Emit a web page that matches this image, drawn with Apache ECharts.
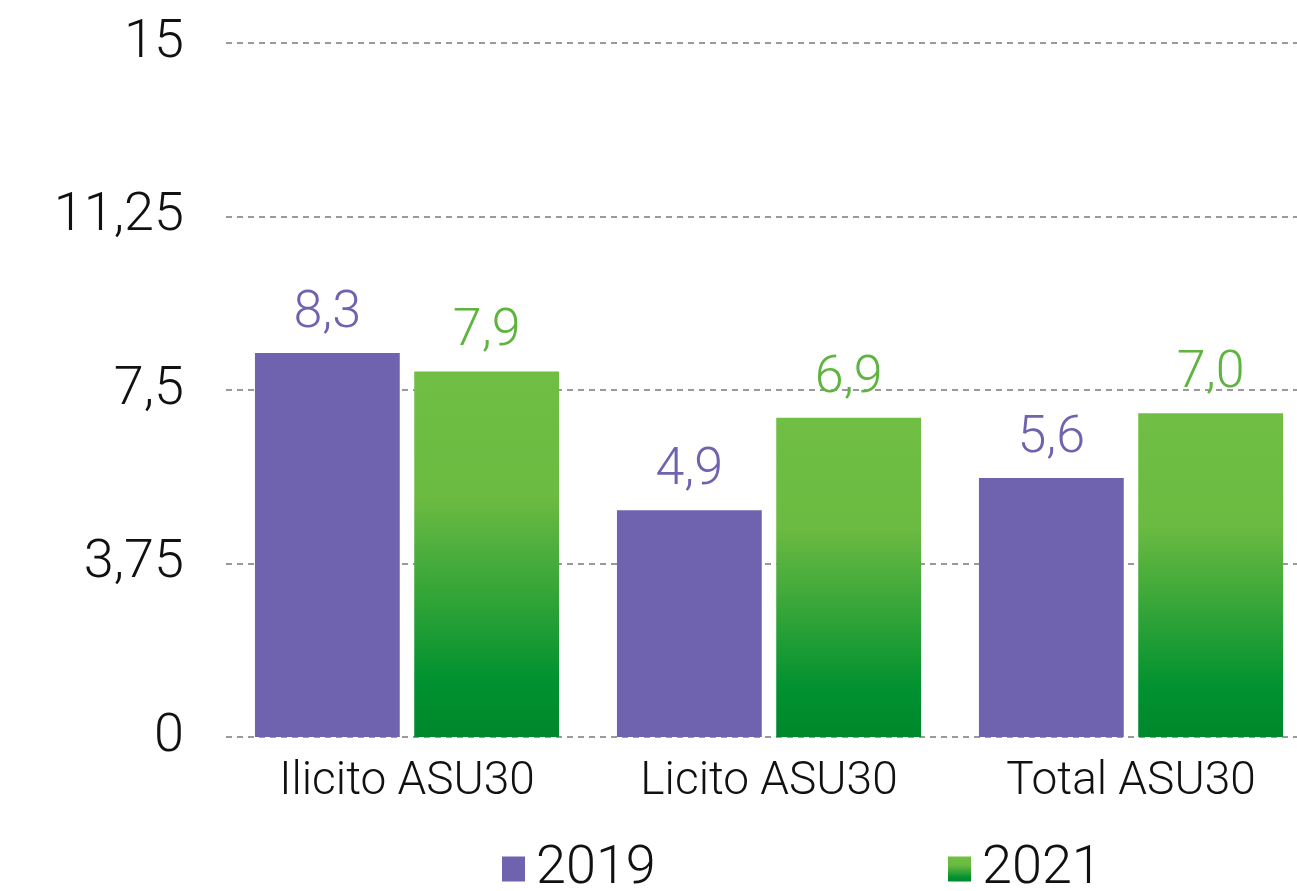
<!DOCTYPE html>
<html>
<head>
<meta charset="utf-8">
<script src="https://cdn.jsdelivr.net/npm/echarts@6/dist/echarts.min.js"></script>
<style>
  html, body { margin: 0; padding: 0; background: #fff; }
  #chart { width: 1297px; height: 891px; }
</style>
</head>
<body>
<div id="chart"></div>
<script>
// 데이터
let categories = ["Ilicito ASU30", "Licito ASU30", "Total ASU30"];
let values2019 = [8.3, 4.9, 5.6];
let values2021 = [7.9, 6.9, 7.0];
let yTicks = [0, 3.75, 7.5, 11.25, 15];

let FONT = "Roboto, 'Liberation Sans', Arial, sans-serif";
let WEIGHT = 300;
let PURPLE = "#6f63b0";
let GREEN_LABEL = "#5fb43f";

let greenGrad = new echarts.graphic.LinearGradient(0, 0, 0, 1, [
  { offset: 0, color: "#70bf44" },
  { offset: 0.35, color: "#6bba41" },
  { offset: 0.85, color: "#009130" },
  { offset: 1, color: "#00882c" },
]);

function fmt(v) {
  return String(v).replace(".", ",");
}

let chart = echarts.init(document.getElementById("chart"));

// 범례 공통 스타일
let legendText = { fontFamily: FONT, fontWeight: WEIGHT, fontSize: 54, color: "#111", padding: [0, 0, 0, 6] };

let option = {
  animation: false,
  grid: {
    left: 226,
    right: -15,
    top: 43,
    bottom: 154,
    containLabel: false,
    outerBoundsMode: "none",
  },
  legend: [
    {
      data: ["2019"],
      icon: "rect",
      left: 502,
      top: 842,
      padding: 0,
      itemWidth: 23,
      itemHeight: 25,
      textStyle: legendText,
    },
    {
      data: ["2021"],
      icon: "rect",
      left: 948,
      top: 842,
      padding: 0,
      itemWidth: 23,
      itemHeight: 25,
      textStyle: legendText,
    },
  ],
  xAxis: {
    type: "category",
    data: categories,
    axisLine: { show: false },
    axisTick: { show: false },
    axisLabel: {
      fontFamily: FONT,
      fontWeight: WEIGHT,
      fontSize: 46,
      color: "#111",
      margin: 22,
    },
  },
  yAxis: {
    type: "value",
    min: 0,
    max: 15,
    interval: 3.75,
    axisLine: { show: false },
    axisTick: { show: false },
    axisLabel: {
      fontFamily: FONT,
      fontWeight: WEIGHT,
      fontSize: 54,
      color: "#111",
      margin: 42,
      formatter: function (v) {
        return yTicks.indexOf(v) >= 0 ? fmt(v) : "";
      },
    },
    splitLine: {
      show: true,
      lineStyle: { color: "#9a9a9a", width: 2, type: [6, 5] },
    },
  },
  series: [
    {
      name: "2019",
      type: "bar",
      data: values2019,
      barGap: "10%",
      barCategoryGap: "16%",
      itemStyle: { color: PURPLE },
      label: {
        show: true,
        position: "top",
        distance: 13,
        fontFamily: FONT,
        fontWeight: WEIGHT,
        fontSize: 52,
        color: PURPLE,
        formatter: function (p) { return fmt(p.value.toFixed(1)); },
      },
    },
    {
      name: "2021",
      type: "bar",
      data: values2021,
      barGap: "10%",
      barCategoryGap: "16%",
      itemStyle: { color: greenGrad },
      label: {
        show: true,
        position: "top",
        distance: 13,
        fontFamily: FONT,
        fontWeight: WEIGHT,
        fontSize: 52,
        color: GREEN_LABEL,
        formatter: function (p) { return fmt(p.value.toFixed(1)); },
      },
    },
  ],
};

chart.setOption(option);
</script>
</body>
</html>
